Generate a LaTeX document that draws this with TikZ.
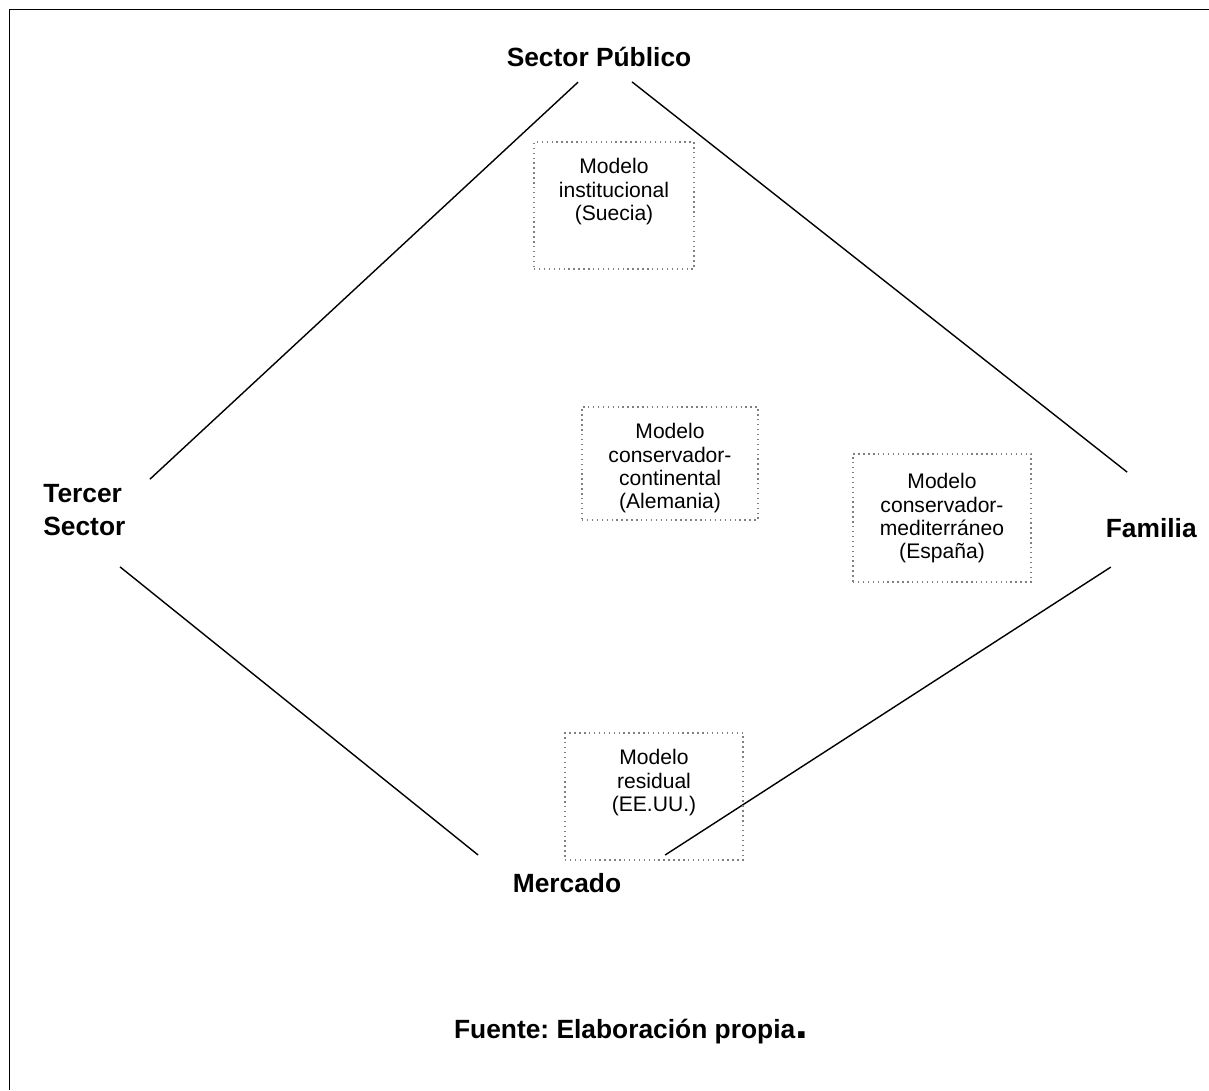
\documentclass[tikz,border=0pt]{standalone}
\usepackage{fontspec}
\setmainfont{Liberation Sans}
\usetikzlibrary{positioning}

\begin{document}
\begin{tikzpicture}[x=0.02cm,y=-0.02cm,
            sector/.style={font=\bfseries\frenchspacing\fontsize{15}{19.3}\selectfont,inner sep=0pt},
            modelo/.style={draw=gray,dotted,line width=0.8pt,inner sep=0pt},
            modtxt/.style={anchor=north,align=center,inner sep=0pt,yshift=-0.34cm,
                font=\fontsize{12}{13.2}\selectfont},
            lado/.style={line width=0.8pt}]
            \useasboundingbox (0,0) rectangle (1209,1090);
            \draw[line width=1.1pt] (1209,9.5) -- (9.5,9.5) -- (9.5,1090);
            % corners
            \node[sector,anchor=base](publico) at (599,66) {Sector Público};
            \node[sector,anchor=west,align=left](tercer) at (43,510) {Tercer\\Sector};
            \node[sector,anchor=base east](familia) at (1197,537) {Familia};
            \node[sector,anchor=base](mercado) at (567,892) {Mercado};
            \coordinate (vtop) at (603,59);
            \coordinate (vleft) at (85.4,539);
            \coordinate (vright) at (1186,518.5);
            \coordinate (vbottom) at (561.4,922);
            \draw[lado,shorten <=0.68cm,shorten >=1.76cm] (vtop) -- (vleft);
            \draw[lado,shorten <=0.74cm,shorten >=1.50cm] (vtop) -- (vright);
            \draw[lado,shorten <=0.89cm,shorten >=2.14cm] (vleft) -- (vbottom);
            \draw[lado,shorten <=1.79cm,shorten >=2.47cm] (vright) -- (vbottom);
            % models
            \node[modelo,minimum width=3.2cm,minimum height=2.54cm,
                label={[modtxt]north:{Modelo\\institucional\\(Suecia)}}](suecia) at (614,205.5) {};
            \node[modelo,minimum width=3.52cm,minimum height=2.26cm,
                label={[modtxt]north:{Modelo\\conservador-\\continental\\(Alemania)}}](alemania) at (670,463.5) {};
            \node[modelo,minimum width=3.56cm,minimum height=2.56cm,
                label={[modtxt,yshift=-0.06cm]north:{Modelo\\conservador-\\mediterráneo\\(España)}}](espana) at (942,518) {};
            \node[modelo,minimum width=3.56cm,minimum height=2.54cm,
                label={[modtxt]north:{Modelo\\residual\\(EE.UU.)}}](eeuu) at (654,796.5) {};
            \node[sector,anchor=base](fuente) at (631,1038) {Fuente: Elaboración propia{\fontsize{26}{26}\selectfont .}};
\end{tikzpicture}
\end{document}
